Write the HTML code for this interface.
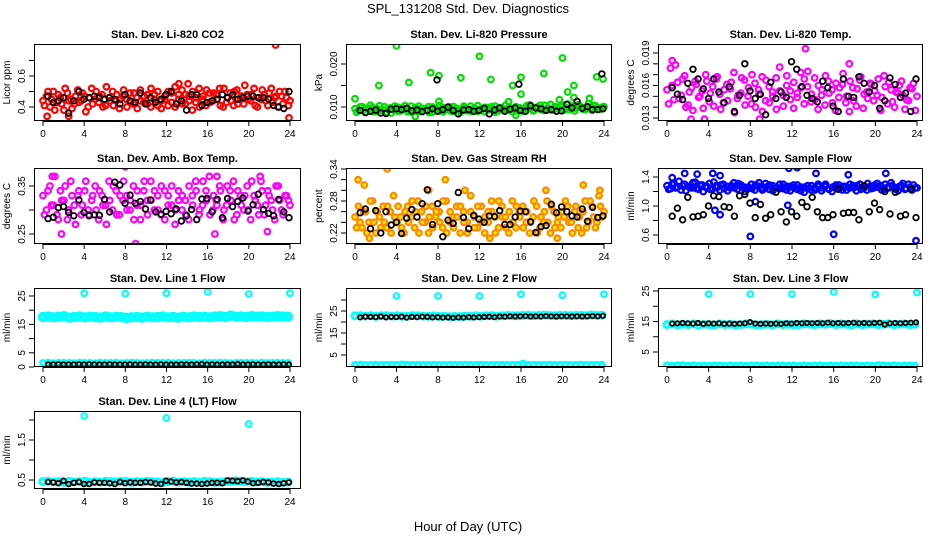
<!DOCTYPE html>
<html><head><meta charset="utf-8"><style>
html,body{margin:0;padding:0;background:#fff;}
svg{display:block;font-family:"Liberation Sans",Arial,sans-serif;}
</style></head><body>
<svg id="chart" width="936" height="540" viewBox="0 0 936 540" xmlns="http://www.w3.org/2000/svg">
<rect x="0" y="0" width="936" height="540" fill="#fff"/>
<text x="468" y="13" text-anchor="middle" font-size="13">SPL_131208  Std. Dev. Diagnostics</text>
<text x="468" y="531" text-anchor="middle" font-size="13">Hour of Day (UTC)</text>
</svg>
<script>
// ---- Panel 1: Li-820 CO2 ----
const co2A=[0.44,0.47,0.40,0.50,0.43,0.46,0.38,0.49,0.45,0.42,0.51,0.44,0.47,0.40,0.52,0.45,0.43,0.48,0.41,0.46,0.50,0.44,0.39,0.47,0.45,0.49,0.42,0.46,0.51,0.43,0.48,0.40,0.45,0.50,0.44,0.47,0.41,0.49,0.53,0.45,0.42,0.48,0.44,0.50,0.46,0.40,0.47,0.51,0.43,0.49,0.45,0.41,0.52,0.46,0.44,0.50,0.42,0.47,0.54,0.45,0.48,0.41,0.46,0.51,0.44,0.49,0.43,0.47,0.50,0.42,0.46,0.44];
const co2B=[0.41,0.50,0.45,0.38,0.48,0.42,0.52,0.44,0.39,0.47,0.43,0.49,0.37,0.46,0.42,0.50,0.47,0.40,0.53,0.44,0.41,0.48,0.45,0.51,0.40,0.43,0.49,0.39,0.44,0.47,0.42,0.52,0.48,0.41,0.39,0.45,0.50,0.43,0.40,0.48,0.51,0.42,0.47,0.38,0.43,0.52,0.45,0.41,0.49,0.44,0.48,0.52,0.40,0.43,0.49,0.41,0.51,0.45,0.42,0.48,0.44,0.52,0.40,0.45,0.48,0.41,0.52,0.46,0.40,0.47,0.50,0.41];
const co2OutHours=[22.6,23.9,13.2,14.1,0.4,2.5];
const co2OutVals=[0.80,0.33,0.55,0.55,0.34,0.34];
const co2Black=[0.47,0.43,0.44,0.46,0.36,0.44,0.50,0.45,0.46,0.47,0.46,0.45,0.46,0.45,0.42,0.48,0.44,0.43,0.49,0.42,0.46,0.43,0.45,0.48,0.50,0.42,0.44,0.38,0.48,0.48,0.41,0.43,0.44,0.45,0.48,0.46,0.48,0.45,0.46,0.47,0.47,0.46,0.46,0.45,0.41,0.40,0.39,0.50];
// ---- Panel 2: Pressure (x 1e-3 kPa) ----
const presA=[9.6,9.2,10.1,8.8,9.5,9.9,9.0,10.3,9.4,8.7,9.8,9.3,10.0,9.1,9.6,8.9,10.2,9.5,9.0,9.7,9.3,10.1,8.8,9.6,9.2,9.9,9.4,10.0,8.9,9.7,9.3,9.8,9.1,10.2,9.5,9.0,9.6,9.9,9.3,10.1,8.8,9.7,9.4,9.2,10.0,9.6,9.1,9.8,9.4,10.3,9.7,9.2,10.0,9.5,10.4,9.8,9.3,10.1,9.6,10.5,9.9,9.4,10.2,9.7,10.3,9.5,10.0,9.6,10.4,9.8,9.5,10.1];
const presB=[8.8,10.0,9.3,9.7,10.4,8.9,9.6,9.2,10.1,9.5,8.6,10.2,9.0,9.8,10.3,9.4,8.8,9.9,10.2,9.1,9.6,8.7,10.0,9.4,10.3,8.9,9.7,9.1,10.1,9.5,8.8,10.2,9.6,9.0,9.8,10.3,9.2,8.9,9.9,9.4,10.2,9.1,9.8,10.4,9.3,8.9,10.1,9.5,9.0,9.7,10.5,9.1,9.6,10.4,9.2,9.7,10.6,9.4,9.9,10.1,9.3,10.7,9.6,9.1,10.5,9.9,9.4,10.8,9.2,10.3,9.7,10.0];
const presOutHours=[0,4,2.3,5.2,7.3,8.1,8.1,10.2,12,13.1,15.2,16,16,18.2,19.7,20,20.5,21.1,21.1,22.6,23.3,23.9,14.8,15.5,5.8];
const presOutVals=[11.9,24.2,15.0,15.7,18.0,17.3,11.3,16.8,21.8,16.4,15.0,16.9,13.0,17.8,11.7,21.4,13.5,15.0,12.2,12.0,17.0,16.5,11.2,8.1,7.8];
const presBlack=[9.2,8.7,9.0,9.3,8.6,8.5,9.5,9.6,9.4,9.7,9.1,9.3,8.9,9.2,9.6,9.0,9.4,10.0,9.2,8.4,9.3,9.4,9.0,9.2,9.7,8.4,9.3,9.8,9.0,9.5,9.8,9.2,9.0,10.3,9.8,9.6,9.2,9.4,9.0,9.1,10.6,9.8,11.3,9.7,10.1,9.4,9.4,9.6];
const presBlackOutHours=[7.9,15.8,23.8];
const presBlackOutVals=[16.3,15.3,17.7];
// ---- Panel 3: Li-820 Temp (x 1e-3 C) ----
const tempA=[15.6,17.6,14.7,16.3,15.1,16.9,14.2,15.8,16.4,14.9,15.5,17.0,14.5,15.9,16.6,15.2,14.4,16.1,15.7,17.2,14.8,15.3,16.5,15.0,14.3,16.2,15.6,16.8,14.6,15.9,15.4,16.7,17.7,15.1,16.0,15.5,16.3,14.9,15.8,16.6,17.3,15.2,14.7,16.0,15.6,16.9,15.3,14.4,16.2,15.8,17.1,15.0,16.4,14.6,15.7,16.8,15.2,14.8,16.1,15.5,16.6,14.9,15.9,16.3,14.5,15.4,16.0,15.1,14.7,15.8,16.2,15.0];
const tempB=[14.3,16.0,17.9,14.8,16.6,14.0,15.4,13.7,16.1,15.0,13.9,16.4,15.3,14.1,16.8,13.8,15.6,14.6,16.3,13.5,15.1,16.7,14.2,15.8,17.0,14.0,15.2,13.6,16.5,14.4,15.0,13.8,15.5,14.1,16.9,14.7,13.9,15.3,17.2,14.3,15.9,14.5,16.7,13.8,15.1,14.2,16.4,15.6,13.7,14.9,16.1,14.4,13.6,15.8,14.1,16.5,13.9,15.4,16.2,14.6,15.1,13.7,16.9,14.3,15.6,14.0,15.3,16.4,13.8,14.6,15.7,13.7];
const tempOutHours=[13.3,3.6,8.9,0.5,17.5,2.3];
const tempOutVals=[19.4,12.9,12.9,18.3,18.0,12.9];
const tempBlack=[15.8,15.2,14.7,16.2,17.5,16.6,15.7,14.8,16.6,15.4,14.4,15.9,13.6,15.1,18.0,15.5,14.8,15.2,13.3,16.3,14.8,15.4,14.9,18.2,17.5,15.9,15.1,14.8,14.5,16.4,15.8,14.1,13.6,16.6,15.0,14.9,16.8,16.2,15.4,16.0,13.9,14.6,16.7,16.1,14.9,15.3,13.6,16.6];
// ---- Panel 4: Amb Box Temp ----
const ambA=[0.33,0.30,0.35,0.31,0.29,0.34,0.32,0.28,0.36,0.31,0.33,0.29,0.34,0.30,0.32,0.35,0.28,0.33,0.31,0.36,0.30,0.34,0.29,0.32,0.33,0.30,0.35,0.31,0.28,0.34,0.32,0.36,0.30,0.33,0.29,0.34,0.31,0.35,0.30,0.32,0.33,0.29,0.35,0.31,0.34,0.30,0.36,0.32,0.29,0.33,0.31,0.34,0.30,0.35,0.32,0.28,0.34,0.31,0.33,0.30,0.36,0.32,0.29,0.34,0.31,0.33,0.30,0.35,0.32,0.29,0.33,0.31];
const ambB=[0.29,0.34,0.31,0.37,0.28,0.32,0.35,0.30,0.33,0.27,0.34,0.31,0.36,0.29,0.33,0.30,0.34,0.31,0.27,0.32,0.35,0.29,0.33,0.36,0.30,0.32,0.28,0.34,0.31,0.36,0.29,0.32,0.34,0.30,0.35,0.28,0.33,0.31,0.27,0.34,0.30,0.32,0.28,0.33,0.36,0.29,0.31,0.34,0.37,0.30,0.32,0.35,0.28,0.31,0.34,0.36,0.29,0.33,0.30,0.35,0.28,0.33,0.31,0.36,0.29,0.34,0.32,0.28,0.35,0.30,0.33,0.32];
const ambOutHours=[8,9,1.8,16.7,21.8,0.9,21.1,16.9];
const ambOutVals=[0.39,0.23,0.25,0.25,0.255,0.37,0.37,0.37];
const ambBlack=[0.282,0.285,0.305,0.307,0.295,0.288,0.321,0.295,0.288,0.29,0.289,0.322,0.296,0.358,0.352,0.314,0.331,0.314,0.318,0.302,0.321,0.296,0.291,0.297,0.292,0.302,0.277,0.288,0.301,0.28,0.323,0.324,0.296,0.322,0.284,0.324,0.307,0.318,0.325,0.298,0.311,0.333,0.301,0.293,0.288,0.322,0.296,0.284];
// ---- Panel 5: Gas Stream RH ----
const rhA=[0.25,0.27,0.23,0.26,0.24,0.28,0.22,0.25,0.27,0.23,0.26,0.29,0.24,0.25,0.22,0.27,0.25,0.23,0.28,0.26,0.24,0.22,0.27,0.25,0.26,0.23,0.28,0.24,0.25,0.27,0.22,0.26,0.24,0.29,0.25,0.23,0.27,0.25,0.24,0.26,0.22,0.28,0.25,0.23,0.26,0.24,0.27,0.25,0.23,0.26,0.24,0.28,0.22,0.25,0.26,0.24,0.27,0.23,0.25,0.26,0.28,0.24,0.22,0.27,0.25,0.26,0.23,0.28,0.25,0.24,0.27,0.26];
const rhB=[0.23,0.24,0.26,0.22,0.28,0.24,0.26,0.23,0.24,0.27,0.22,0.25,0.27,0.23,0.26,0.24,0.28,0.26,0.22,0.24,0.27,0.25,0.23,0.26,0.24,0.28,0.22,0.26,0.23,0.25,0.27,0.24,0.22,0.26,0.23,0.27,0.24,0.22,0.26,0.28,0.25,0.23,0.27,0.25,0.22,0.28,0.23,0.26,0.27,0.24,0.22,0.25,0.27,0.23,0.24,0.28,0.22,0.26,0.24,0.23,0.25,0.27,0.24,0.26,0.23,0.22,0.28,0.24,0.27,0.23,0.29,0.25];
const rhOutHours=[0.3,0.9,3.1,8.7,7.1,13,19.5,22,1.4,10.6,23.6,18.4];
const rhOutVals=[0.32,0.31,0.34,0.32,0.30,0.21,0.21,0.31,0.21,0.30,0.30,0.30];
const rhBlack=[0.258,0.265,0.228,0.262,0.22,0.26,0.235,0.24,0.219,0.248,0.264,0.25,0.275,0.301,0.236,0.275,0.213,0.244,0.238,0.296,0.249,0.228,0.253,0.246,0.24,0.252,0.251,0.262,0.236,0.236,0.25,0.261,0.26,0.241,0.221,0.232,0.234,0.274,0.258,0.269,0.26,0.252,0.25,0.265,0.242,0.268,0.249,0.252];
// ---- Panel 6: Sample Flow ----
const sfA=[1.28,1.24,1.31,1.26,1.22,1.30,1.27,1.25,1.33,1.23,1.29,1.26,1.31,1.24,1.28,1.22,1.30,1.27,1.25,1.32,1.23,1.29,1.26,1.24,1.30,1.22,1.27,1.25,1.31,1.23,1.28,1.26,1.24,1.30,1.22,1.27,1.25,1.29,1.21,1.26,1.24,1.28,1.22,1.27,1.25,1.30,1.23,1.26,1.29,1.24,1.27,1.22,1.30,1.25,1.28,1.23,1.27,1.31,1.24,1.29,1.26,1.22,1.30,1.25,1.28,1.23,1.27,1.31,1.24,1.26,1.29,1.25];
const sfB=[1.23,1.30,1.25,1.34,1.28,1.21,1.26,1.32,1.24,1.29,1.20,1.27,1.23,1.33,1.26,1.29,1.24,1.21,1.28,1.25,1.31,1.27,1.20,1.26,1.24,1.29,1.32,1.22,1.26,1.29,1.21,1.25,1.30,1.24,1.27,1.21,1.29,1.23,1.26,1.19,1.28,1.22,1.25,1.30,1.21,1.27,1.24,1.20,1.26,1.29,1.22,1.27,1.25,1.28,1.21,1.30,1.24,1.22,1.27,1.25,1.31,1.28,1.23,1.26,1.32,1.25,1.21,1.28,1.23,1.30,1.22,1.25];
const sfOutHours=[2.9,4.4,5.1,11.7,12.5,14.3,17.4,21,8,16,23.9,4.6,5.1,8.5,11.6,1.7,0.5];
const sfOutVals=[1.44,1.45,1.42,1.52,1.53,1.45,1.43,1.45,0.58,0.61,0.52,0.94,0.88,1.06,1.01,1.45,1.39];
const sfBlack=[0.86,0.97,0.81,1.12,0.85,0.86,0.88,1.0,1.14,1.13,0.99,0.98,0.86,1.14,1.16,1.04,0.84,1.02,0.83,0.88,1.19,0.92,0.78,0.92,0.86,1.05,0.99,1.12,0.92,0.84,0.84,0.88,1.23,0.90,0.91,0.91,0.81,1.28,0.92,1.04,0.95,1.20,0.89,1.19,0.86,0.88,1.23,0.84];
// ---- Panel 7: Line 1 Flow ----
const l1High=[17.6,17.8,17.5,17.7,17.9,17.4,17.6,17.8,17.5,17.7,17.6,17.4,17.8,17.5,17.7,17.6,17.3,17.5,17.6,17.4,17.7,17.5,17.6,17.8,17.5,17.6,17.4,17.7,17.5,17.8,17.6,17.7,17.5,17.8,17.9,17.6,18.1,17.7,17.8,17.6,17.9,17.7,17.8,17.6,17.7,17.9,17.8,17.7];
const l1Low=[1.5,1.6,1.4,1.5,1.6,1.5,1.4,1.6,1.5,1.5,1.4,1.6,1.5,1.5,1.6,1.4,1.5,1.6,1.5,1.4,1.5,1.6,1.5,1.5,1.6,1.4,1.5,1.5,1.6,1.5,1.4,1.6,1.5,1.5,1.6,1.5,1.4,1.5,1.6,1.5,1.5,1.4,1.6,1.5,1.5,1.6,1.5,1.5];
const l1Black=[0.9,0.9,1.0,0.9,0.9,0.9,1.0,0.9,1.0,0.9,0.9,0.9,1.0,0.9,0.9,0.9,1.0,0.9,0.9,1.0,0.9,0.9,1.0,0.9,0.9,0.9,1.0,0.9,0.9,1.0,1.1,0.9,1.0,0.9,0.9,1.0,0.9,1.1,0.9,0.9,1.0,0.9,0.9,1.0,0.9,0.9,1.0,0.9];
const l1OutHours=[4,8,12,16,20,24];
const l1OutVals=[26.0,25.8,26.0,26.4,25.7,26.0];
// ---- Panel 8: Line 2 Flow ----
const l2High=[22.8,22.9,22.7,22.8,22.6,22.8,22.9,22.7,22.8,22.6,22.7,22.9,22.8,22.7,22.6,22.8,22.5,22.7,22.4,22.6,22.5,22.7,22.6,22.8,22.7,22.8,22.9,22.7,22.8,23.0,22.9,22.8,23.0,23.1,22.9,23.0,23.2,23.0,22.9,23.1,23.0,22.9,23.0,23.1,22.9,23.2,23.0,23.1];
const l2Low=[0.5,0.6,0.5,0.5,0.6,0.5,0.5,0.6,0.5,0.7,0.5,0.5,0.6,0.5,0.5,0.6,0.5,0.5,0.6,0.5,0.5,0.6,0.5,0.5,0.6,0.5,0.5,0.6,0.5,0.5,0.6,0.5,1.0,0.5,0.6,0.5,0.5,0.6,0.5,0.5,0.6,0.5,0.5,0.6,0.5,0.5,0.6,0.5];
const l2Black=[22.1,22.4,22.3,22.2,22.5,22.1,22.3,22.2,22.4,22.0,22.3,22.2,22.4,22.3,22.1,22.2,22.0,22.1,21.9,22.1,22.0,22.2,22.1,22.2,22.3,22.4,22.2,22.5,22.4,22.6,22.5,22.6,22.7,22.5,22.6,22.5,22.7,22.6,22.5,22.6,22.6,22.5,22.6,22.5,22.6,22.7,22.6,22.8];
const l2OutHours=[4,8,12,16,20,24];
const l2OutVals=[31.8,31.8,31.8,32.6,32.2,32.6];
// ---- Panel 9: Line 3 Flow ----
const l3High=[14.0,14.2,13.9,14.1,14.0,14.2,13.8,14.1,14.0,13.9,14.2,14.0,14.1,13.9,14.0,14.2,14.1,13.9,14.0,14.1,13.9,14.2,14.0,14.1,13.9,14.0,14.2,14.1,14.0,14.2,14.1,14.3,14.0,14.2,14.1,13.9,14.2,14.0,14.1,14.2,14.0,14.1,14.2,14.0,14.1,14.2,14.0,14.1];
const l3Low=[0.6,0.5,0.6,0.7,0.5,0.6,0.5,0.6,0.5,0.6,0.6,0.5,0.6,0.5,0.6,0.5,0.6,0.6,0.5,0.6,0.5,0.6,0.6,0.5,0.6,0.5,0.6,0.5,0.6,0.6,0.5,0.6,0.5,0.6,0.5,0.6,0.6,0.5,0.6,0.5,0.7,0.6,0.5,0.6,0.5,0.6,0.6,0.5];
const l3Black=[14.3,14.4,14.5,14.4,14.3,14.5,14.2,14.4,14.3,14.4,14.2,14.3,14.2,14.3,14.4,14.8,14.3,14.2,14.3,14.2,14.3,14.2,14.4,14.3,14.5,14.4,14.5,14.4,14.5,14.4,14.6,14.4,14.5,14.4,14.5,14.6,14.4,14.5,14.4,14.5,14.6,14.0,14.4,14.5,14.4,14.5,14.6,14.7];
const l3OutHours=[4,8,12,16,20,24];
const l3OutVals=[24.0,24.0,24.0,24.7,23.9,24.5];
// ---- Panel 10: Line 4 (LT) Flow ----
const l4High=[0.46,0.47,0.45,0.46,0.44,0.47,0.45,0.46,0.47,0.44,0.46,0.45,0.47,0.46,0.45,0.47,0.46,0.44,0.46,0.45,0.47,0.46,0.45,0.44,0.46,0.47,0.45,0.46,0.44,0.46,0.45,0.47,0.46,0.44,0.45,0.46,0.47,0.48,0.47,0.46,0.47,0.45,0.46,0.44,0.45,0.46,0.44,0.45];
const l4Black=[0.45,0.44,0.42,0.48,0.40,0.43,0.45,0.40,0.40,0.44,0.43,0.43,0.42,0.40,0.45,0.42,0.44,0.43,0.43,0.45,0.44,0.41,0.40,0.48,0.46,0.44,0.45,0.43,0.41,0.41,0.40,0.41,0.43,0.43,0.42,0.49,0.48,0.47,0.49,0.46,0.42,0.43,0.45,0.44,0.41,0.40,0.42,0.44];
const l4OutHours=[4,12,20];
const l4OutVals=[2.10,2.05,1.90];

const NS="http://www.w3.org/2000/svg";
const svg=document.getElementById('chart');
const COLS=[{b:[34,301],x:[43,290]},{b:[346,612],x:[355,604]},{b:[658,923],x:[667,917]}];
const ROWS=[[44,121],[168,244],[288,367],[411,489]];
function el(tag,attrs,parent){const e=document.createElementNS(NS,tag);for(const k in attrs)e.setAttribute(k,attrs[k]);(parent||svg).appendChild(e);return e;}
function evenHours(n,start,end){const out=[];for(let i=0;i<n;i++)out.push(start+(end-start)*i/(n-1));return out;}

function panel(name,title,ylab,col,row,yref,yticks,ylabels,fmt,series){
  const c=COLS[col],[y0,y1]=ROWS[row];
  const g=el('g',{});
  
  
  const xs=h=>c.x[0]+(c.x[1]-c.x[0])*h/24;
  const ys=v=>yref[1]+(v-yref[0])*(yref[3]-yref[1])/(yref[2]-yref[0]);
  const t=el('text',{x:(c.b[0]+c.b[1])/2,y:y0-6,'text-anchor':'middle','font-size':11,'font-weight':'bold'},g);
  t.textContent=title;
  
  
  const cp='clip-'+name;
  const cl=el('clipPath',{id:cp},g);
  el('rect',{x:c.b[0],y:y0,width:c.b[1]-c.b[0],height:y1-y0},cl);
  const pts=el('g',{'clip-path':'url(#'+cp+')'},g);
  
  
  series.forEach(s=>{
    s.v.forEach((v,i)=>{
      const ci=el('circle',{cx:xs(s.h[i]).toFixed(1),cy:ys(v).toFixed(1),r:s.r||2.8,fill:s.fill||'none',stroke:s.c,'stroke-width':s.w||2.2},pts);
      
      
    });
  });
  const box=el('rect',{x:c.b[0]+0.5,y:y0+0.5,width:c.b[1]-c.b[0]-1,height:y1-y0-1,fill:'none',stroke:'#000','stroke-width':1},g);
  
  
  [0,4,8,12,16,20,24].forEach(h=>{
    const x=xs(h);
    el('line',{x1:x,x2:x,y1:y1,y2:y1+5,stroke:'#000'},g);
    const tl=el('text',{x:x,y:y1+16,'text-anchor':'middle','font-size':10},g);
    tl.textContent=h;
    
    
  });
  el('line',{x1:xs(0),x2:xs(24),y1:y1+0.5,y2:y1+0.5,stroke:'#000'},g);
  yticks.forEach(v=>{
    const y=ys(v);
    el('line',{x1:c.b[0]-5,x2:c.b[0],y1:y,y2:y,stroke:'#000'},g);
  });
  ylabels.forEach(v=>{
    const y=ys(v),x=c.b[0]-9;
    const tl=el('text',{x:x,y:y,'text-anchor':'middle','font-size':10,transform:'rotate(-90 '+x+' '+y+')'},g);
    tl.textContent=fmt(v);
    
    
  });
  const lx=c.b[0]-24,ly=(y0+y1)/2;
  const yl=el('text',{x:lx,y:ly,'text-anchor':'middle','font-size':10,transform:'rotate(-90 '+lx+' '+ly+')'},g);
  yl.textContent=ylab;
  
  
}
const H72=evenHours(72,0,24), H72b=evenHours(72,0.15,23.85), H48=evenHours(48,0.5,23.9), H48c=evenHours(48,0,23.8);
const f1=v=>v.toFixed(1), f2=v=>v.toFixed(2), f3=v=>(v/1000).toFixed(3), f0=v=>String(v);
const RED='#ff0000',GRN='#00dd00',MAG='#ff00ff',BLU='#0000ff',CY='#00ffff',ORG='#ff8800';

panel('panel-co2','Stan. Dev. Li-820 CO2','Licor ppm',0,0,[0.4,107,0.6,76],[0.4,0.5,0.6,0.7],[0.4,0.6],f1,[
 {n:'co2-point',h:H72,v:co2A,c:RED},{n:'co2-point',h:H72b,v:co2B,c:RED},{n:'co2-outlier',h:co2OutHours,v:co2OutVals,c:RED},{n:'co2-ref-point',h:H48,v:co2Black,c:'#000',w:1.8}]);
panel('panel-pressure','Stan. Dev. Li-820 Pressure','kPa',1,0,[10,107,20,64],[10,15,20],[10,20],f3,[
 {n:'pressure-point',h:H72,v:presA,c:GRN},{n:'pressure-point',h:H72b,v:presB,c:GRN},{n:'pressure-outlier',h:presOutHours,v:presOutVals,c:GRN},{n:'pressure-ref-point',h:H48,v:presBlack,c:'#000',w:1.8},{n:'pressure-ref-outlier',h:presBlackOutHours,v:presBlackOutVals,c:'#000',w:1.8}]);
panel('panel-temp','Stan. Dev. Li-820 Temp.','degrees C',2,0,[13,118,19,53],[13,14,15,16,17,18,19],[13,16,19],f3,[
 {n:'temp-point',h:H72,v:tempA,c:MAG},{n:'temp-point',h:H72b,v:tempB,c:MAG},{n:'temp-outlier',h:tempOutHours,v:tempOutVals,c:MAG},{n:'temp-ref-point',h:H48,v:tempBlack,c:'#000',w:1.8}]);
panel('panel-amb-temp','Stan. Dev. Amb. Box Temp.','degrees C',0,1,[0.35,186,0.25,234],[0.25,0.30,0.35],[0.25,0.35],f2,[
 {n:'amb-point',h:H72,v:ambA,c:MAG},{n:'amb-point',h:H72b,v:ambB,c:MAG},{n:'amb-outlier',h:ambOutHours,v:ambOutVals,c:MAG},{n:'amb-ref-point',h:H48,v:ambBlack,c:'#000',w:1.8}]);
panel('panel-rh','Stan. Dev. Gas Stream RH','percent',1,1,[0.34,169,0.22,233],[0.22,0.24,0.26,0.28,0.30,0.32,0.34],[0.22,0.28,0.34],f2,[
 {n:'rh-point',h:H72,v:rhA,c:ORG,fill:'#ffee00'},{n:'rh-point',h:H72b,v:rhB,c:ORG,fill:'#ffee00'},{n:'rh-outlier',h:rhOutHours,v:rhOutVals,c:ORG,fill:'#ffee00'},{n:'rh-ref-point',h:H48,v:rhBlack,c:'#000',w:1.8}]);
panel('panel-sample-flow','Stan. Dev. Sample Flow','ml/min',2,1,[1.4,177,0.6,235],[0.6,0.8,1.0,1.2,1.4],[0.6,1.0,1.4],f1,[
 {n:'flow-point',h:H72,v:sfA,c:BLU},{n:'flow-point',h:H72b,v:sfB,c:BLU},{n:'flow-outlier',h:sfOutHours,v:sfOutVals,c:BLU},{n:'flow-ref-point',h:H48,v:sfBlack,c:'#000',w:1.8}]);
panel('panel-line1','Stan. Dev. Line 1 Flow','ml/min',0,2,[0,367,25,296],[0,5,10,15,20,25],[0,5,15,25],f0,[
 {n:'line1-high',h:H48c,v:l1High,c:CY,r:3.2,w:4},{n:'line1-low',h:H48c,v:l1Low,c:CY,r:2.5,w:2.5},{n:'line1-ref',h:H48,v:l1Black,c:'#000',r:2.2,w:1.8},{n:'line1-outlier',h:l1OutHours,v:l1OutVals,c:CY}]);
panel('panel-line2','Stan. Dev. Line 2 Flow','ml/min',1,2,[5,355,25,311],[5,10,15,20,25,30],[5,15,25],f0,[
 {n:'line2-high',h:H48c,v:l2High,c:CY,r:3,w:3},{n:'line2-low',h:H48c,v:l2Low,c:CY,r:2.5,w:3},{n:'line2-ref',h:H48,v:l2Black,c:'#000',r:2.2,w:1.8},{n:'line2-outlier',h:l2OutHours,v:l2OutVals,c:CY}]);
panel('panel-line3','Stan. Dev. Line 3 Flow','ml/min',2,2,[5,352,25,291],[5,10,15,20,25],[5,15,25],f0,[
 {n:'line3-high',h:H48c,v:l3High,c:CY,r:3,w:3},{n:'line3-low',h:H48c,v:l3Low,c:CY,r:2.5,w:3},{n:'line3-ref',h:H48,v:l3Black,c:'#000',r:2.2,w:1.8},{n:'line3-outlier',h:l3OutHours,v:l3OutVals,c:CY}]);
panel('panel-line4','Stan. Dev. Line 4 (LT) Flow','ml/min',0,3,[0.5,480,1.5,440],[0.5,1.0,1.5,2.0],[0.5,1.5],f1,[
 {n:'line4-band',h:H48c,v:l4High,c:CY,r:3,w:3},{n:'line4-ref',h:H48,v:l4Black,c:'#000',r:2.4,w:1.8},{n:'line4-outlier',h:l4OutHours,v:l4OutVals,c:CY}]);
</script>
</body></html>
